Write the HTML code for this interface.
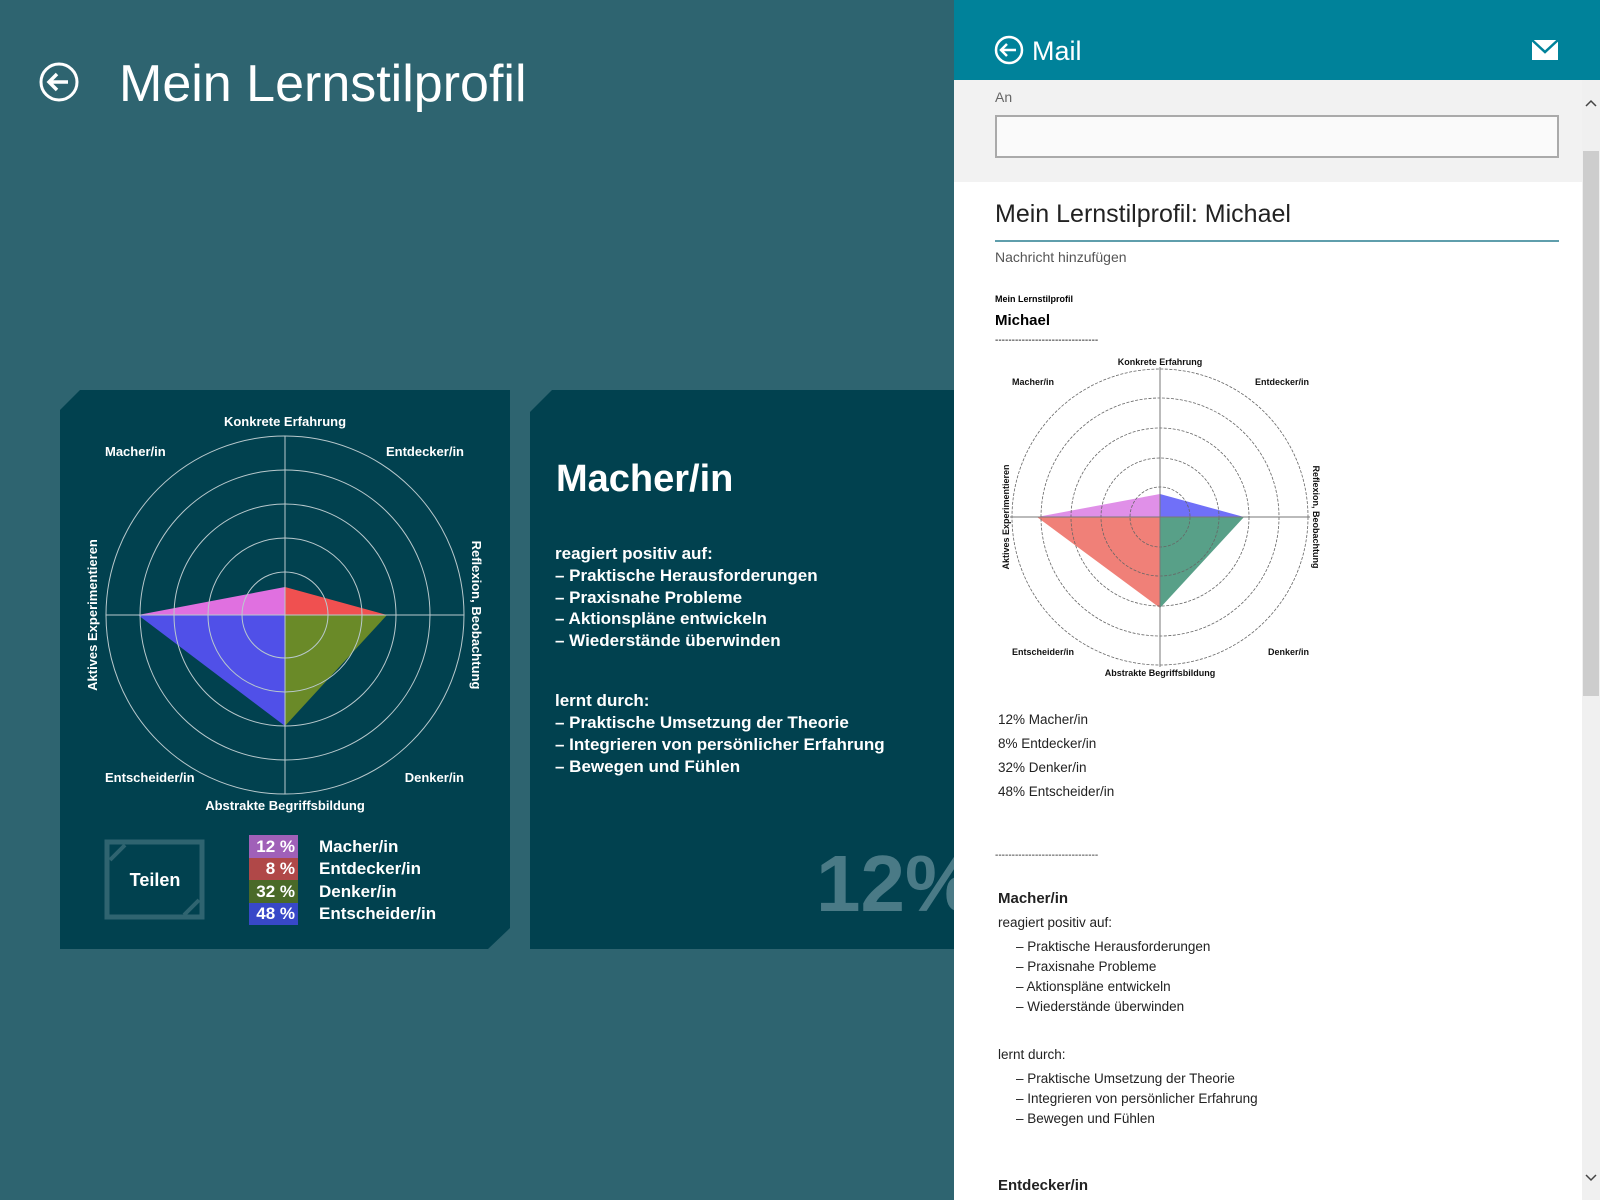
<!DOCTYPE html>
<html><head><meta charset="utf-8"><style>
html,body{margin:0;padding:0;width:1600px;height:1200px;overflow:hidden;background:#2e6470}
svg{display:block}
text{font-family:"Liberation Sans",sans-serif}
</style></head><body>
<svg width="1600" height="1200" viewBox="0 0 1600 1200" xmlns="http://www.w3.org/2000/svg">
<rect width="1600" height="1200" fill="#2e6470"/>
<circle cx="59" cy="82" r="18" fill="none" stroke="#fff" stroke-width="3"/>
<path d="M68 82H50M57 74l-8 8 8 8" fill="none" stroke="#fff" stroke-width="3.5"/>
<text x="119" y="101" font-size="52" fill="#fff" font-weight="300">Mein Lernstilprofil</text>

<path d="M80 390H510V928L488 949H60V410Z" fill="#01414f"/>
<path d="M285 615V587L138 615Z" fill="#e070e0"/>
<path d="M285 615V587L387 615Z" fill="#f05050"/>
<path d="M285 615V726L387 615Z" fill="#6a8a28"/>
<path d="M285 615V726L138 615Z" fill="#5050e8"/>
<g fill="none" stroke="#b9c9cd" stroke-width="1">
<circle cx="285" cy="615" r="43"/><circle cx="285" cy="615" r="77"/><circle cx="285" cy="615" r="111"/><circle cx="285" cy="615" r="145"/><circle cx="285" cy="615" r="179"/>
</g>
<g stroke="#b9c9cd" stroke-width="1"><line x1="285" y1="436" x2="285" y2="794"/><line x1="106" y1="615" x2="464" y2="615"/></g>
<g fill="#fff" font-size="13" font-weight="bold">
<text x="285" y="426" text-anchor="middle">Konkrete Erfahrung</text>
<text x="105" y="456">Macher/in</text>
<text x="464" y="456" text-anchor="end">Entdecker/in</text>
<text x="105" y="782">Entscheider/in</text>
<text x="464" y="782" text-anchor="end">Denker/in</text>
<text x="285" y="810" text-anchor="middle">Abstrakte Begriffsbildung</text>
<text transform="translate(97,615) rotate(-90)" text-anchor="middle">Aktives Experimentieren</text>
<text transform="translate(472,615) rotate(90)" text-anchor="middle">Reflexion, Beobachtung</text>
</g>
<rect x="107" y="842" width="95" height="75" fill="none" stroke="#2f6470" stroke-width="5"/>
<path d="M110 860l15-15" stroke="#2f6470" stroke-width="4"/>
<path d="M199 900l-15 15" stroke="#2f6470" stroke-width="4"/>
<text x="155" y="886" font-size="18" font-weight="bold" fill="#fff" text-anchor="middle">Teilen</text>
<rect x="249" y="835" width="49" height="23" fill="#a060b8"/>
<rect x="249" y="858" width="49" height="22" fill="#b04848"/>
<rect x="249" y="880" width="49" height="23" fill="#4a6a28"/>
<rect x="249" y="903" width="49" height="22" fill="#3848c8"/>
<g fill="#fff" font-size="17" font-weight="bold">
<text x="295" y="852" text-anchor="end">12 %</text>
<text x="295" y="874" text-anchor="end">8 %</text>
<text x="295" y="897" text-anchor="end">32 %</text>
<text x="295" y="919" text-anchor="end">48 %</text>
<text x="319" y="852">Macher/in</text>
<text x="319" y="874">Entdecker/in</text>
<text x="319" y="897">Denker/in</text>
<text x="319" y="919">Entscheider/in</text>
</g>

<path d="M552 390H954V949H530V412Z" fill="#01414f"/>
<text x="556" y="491" font-size="38" font-weight="bold" fill="#fff">Macher/in</text>
<g fill="#fff" font-size="17" font-weight="bold">
<text x="555" y="559">reagiert positiv auf:</text>
<text x="555" y="581">– Praktische Herausforderungen</text>
<text x="555" y="603">– Praxisnahe Probleme</text>
<text x="555" y="624">– Aktionspläne entwickeln</text>
<text x="555" y="646">– Wiederstände überwinden</text>
<text x="555" y="706">lernt durch:</text>
<text x="555" y="728">– Praktische Umsetzung der Theorie</text>
<text x="555" y="750">– Integrieren von persönlicher Erfahrung</text>
<text x="555" y="772">– Bewegen und Fühlen</text>
</g>
<text x="816" y="911" font-size="80" font-weight="bold" fill="#4a7a86">12%</text>

<rect x="954" y="0" width="646" height="1200" fill="#fff"/>
<rect x="954" y="0" width="646" height="80" fill="#00829a"/>
<circle cx="1009" cy="50" r="13" fill="none" stroke="#fff" stroke-width="2.5"/>
<path d="M1016 50H1002M1007 44l-6 6 6 6" fill="none" stroke="#fff" stroke-width="2.5"/>
<text x="1032" y="60" font-size="27" fill="#fff">Mail</text>
<rect x="1532" y="40" width="26" height="20" fill="#fff"/>
<path d="M1532 40l13 12 13-12" fill="none" stroke="#00829a" stroke-width="2.5"/>
<rect x="954" y="80" width="628" height="102" fill="#f2f2f2"/>
<text x="995" y="102" font-size="14" fill="#666">An</text>
<rect x="996" y="116" width="562" height="41" fill="#fafafa" stroke="#aaa" stroke-width="2"/>
<text x="995" y="222" font-size="25" fill="#222" font-weight="300">Mein Lernstilprofil: Michael</text>
<line x1="995" y1="241" x2="1559" y2="241" stroke="#2a7f90" stroke-width="1.5"/>
<text x="995" y="262" font-size="14" fill="#555">Nachricht hinzufügen</text>
<text x="995" y="302" font-size="9" font-weight="bold" fill="#000">Mein Lernstilprofil</text>
<text x="995" y="325" font-size="15" font-weight="bold" fill="#000">Michael</text>
<text x="995" y="343" font-size="10" fill="#000">-------------------------------</text>

<path d="M1160 517V494L1037 517Z" fill="#e090e8"/>
<path d="M1160 517V494L1244 517Z" fill="#7070f8"/>
<path d="M1160 517V608L1244 517Z" fill="#58a088"/>
<path d="M1160 517V608L1037 517Z" fill="#f08078"/>
<g fill="none" stroke="#666" stroke-width="0.8" stroke-dasharray="3,1.5">
<circle cx="1160" cy="517" r="30"/><circle cx="1160" cy="517" r="59"/><circle cx="1160" cy="517" r="89"/><circle cx="1160" cy="517" r="119"/><circle cx="1160" cy="517" r="148"/>
</g>
<g stroke="#777" stroke-width="1"><line x1="1160" y1="367" x2="1160" y2="667"/><line x1="1010" y1="517" x2="1310" y2="517"/></g>
<g fill="#111" font-size="9" font-weight="bold">
<text x="1160" y="365" text-anchor="middle">Konkrete Erfahrung</text>
<text x="1012" y="385">Macher/in</text>
<text x="1309" y="385" text-anchor="end">Entdecker/in</text>
<text x="1012" y="655">Entscheider/in</text>
<text x="1309" y="655" text-anchor="end">Denker/in</text>
<text x="1160" y="676" text-anchor="middle">Abstrakte Begriffsbildung</text>
<text transform="translate(1009,517) rotate(-90)" text-anchor="middle">Aktives Experimentieren</text>
<text transform="translate(1313,517) rotate(90)" text-anchor="middle">Reflexion, Beobachtung</text>
</g>

<g fill="#222" font-size="13.5">
<text x="998" y="724">12% Macher/in</text>
<text x="998" y="748">8%   Entdecker/in</text>
<text x="998" y="772">32% Denker/in</text>
<text x="998" y="796">48% Entscheider/in</text>
<text x="995" y="858" font-size="10">-------------------------------</text>
<text x="998" y="903" font-size="15" font-weight="bold">Macher/in</text>
<text x="998" y="927">reagiert positiv auf:</text>
<text x="1016" y="951">– Praktische Herausforderungen</text>
<text x="1016" y="971">– Praxisnahe Probleme</text>
<text x="1016" y="991">– Aktionspläne entwickeln</text>
<text x="1016" y="1011">– Wiederstände überwinden</text>
<text x="998" y="1059">lernt durch:</text>
<text x="1016" y="1083">– Praktische Umsetzung der Theorie</text>
<text x="1016" y="1103">– Integrieren von persönlicher Erfahrung</text>
<text x="1016" y="1123">– Bewegen und Fühlen</text>
<text x="998" y="1190" font-size="15" font-weight="bold">Entdecker/in</text>
</g>

<rect x="1582" y="80" width="18" height="1120" fill="#f0f0f0"/>
<rect x="1583" y="151" width="16" height="545" fill="#cdcdcd"/>
<path d="M1586 106l5-5 5 5" fill="none" stroke="#444" stroke-width="1.5"/>
<path d="M1586 1175l5 5 5-5" fill="none" stroke="#444" stroke-width="1.5"/>
</svg>
</body></html>
